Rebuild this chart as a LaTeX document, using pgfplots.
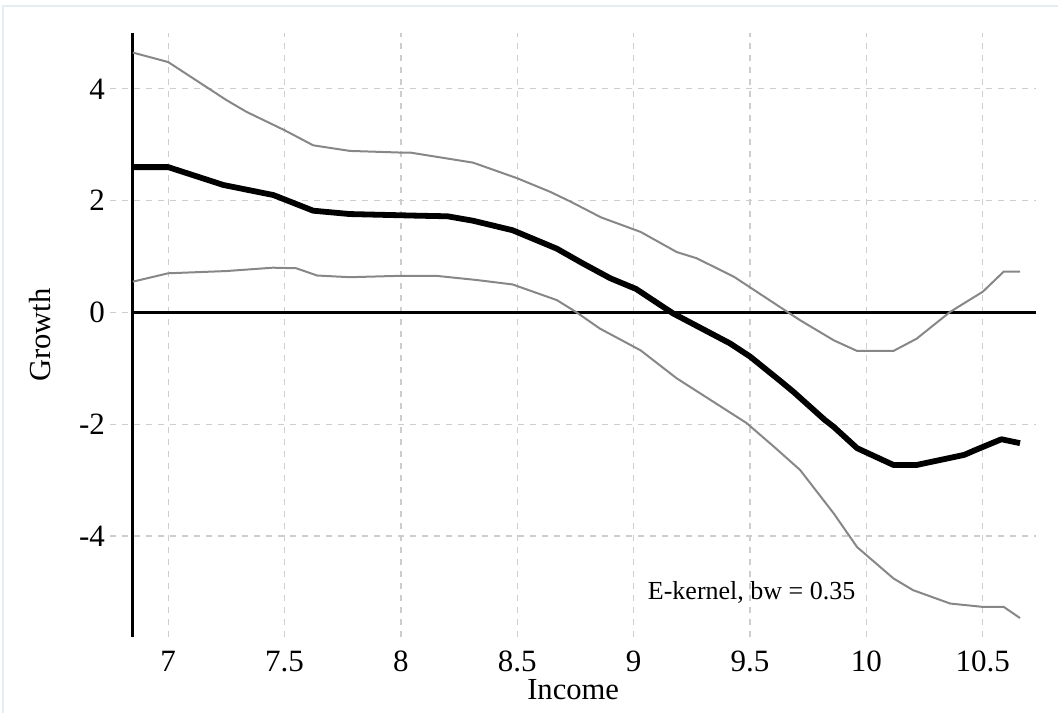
\documentclass[border=0pt]{standalone}
\usepackage{pgfplots}
\pgfplotsset{compat=1.18}
\usepackage{fontspec}
\setmainfont{Liberation Serif}
\definecolor{bandgray}{RGB}{135,135,135}
\definecolor{gridgray}{RGB}{205,205,205}
\definecolor{framec}{RGB}{228,238,240}
\begin{document}
\begin{tikzpicture}
\path[use as bounding box] (-55pt,-38pt) rectangle (473.95pt,318.5pt);
\draw[framec, line width=1pt] (-53.5pt,-38pt) -- (-53.5pt,315.5pt) -- (473.95pt,315.5pt);
\begin{axis}[
  at={(0,0)}, anchor=south west,
  scale only axis, width=463.1pt, height=302pt,
  xmin=6.75, xmax=10.73, ymin=-5.81, ymax=5.0,
  axis line style={draw=none},
  xtick={7,7.5,8,8.5,9,9.5,10,10.5},
  ytick={-4,-2,0,2,4},
  xticklabels={7,7.5,8,8.5,9,9.5,10,10.5},
  yticklabels={-4,-2,0,2,4},
  major tick length=0pt,
  tick label style={font=\fontsize{15.5}{17}\selectfont},
  xticklabel style={yshift=-3.5pt},
  yticklabel style={xshift=1pt},
  grid=major,
  major grid style={gridgray, dash pattern=on 3pt off 3pt, line width=0.6pt},
  xlabel={Income}, ylabel={Growth},
  label style={font=\fontsize{15.3}{17}\selectfont},
  xlabel style={at={(axis description cs:0.5,0)}, anchor=center, yshift=-26.5pt},
  ylabel style={at={(axis description cs:-0.0756,0.5)}, anchor=center},
  clip=false,
]
\draw[black, line width=1.5pt] (axis cs:6.848,-5.81) -- (axis cs:6.848,5.0);
\addplot[black, line width=1.3pt] coordinates {(6.848,0) (10.73,0)};
% upper band
\addplot[bandgray, line width=1pt] coordinates {
(6.848,4.65) (7.0,4.48) (7.25,3.80) (7.336,3.59) (7.5,3.26) (7.623,2.99) (7.78,2.89)
(8.0,2.86) (8.04,2.86) (8.31,2.68) (8.50,2.40) (8.64,2.16) (8.73,1.98) (8.86,1.70)
(9.03,1.44) (9.185,1.08) (9.27,0.97) (9.43,0.64) (9.66,0.01) (9.715,-0.14) (9.86,-0.50)
(9.96,-0.69) (10.116,-0.69) (10.216,-0.47) (10.36,0.01) (10.50,0.37) (10.59,0.73) (10.66,0.73)};
% lower band
\addplot[bandgray, line width=1pt] coordinates {
(6.848,0.55) (7.0,0.70) (7.25,0.74) (7.45,0.80) (7.55,0.79) (7.64,0.66) (7.78,0.63)
(8.0,0.655) (8.15,0.655) (8.325,0.58) (8.48,0.50) (8.67,0.22) (8.755,0.0) (8.855,-0.29)
(9.03,-0.68) (9.185,-1.18) (9.485,-1.98) (9.61,-2.43) (9.715,-2.82) (9.86,-3.60)
(9.96,-4.20) (10.116,-4.76) (10.20,-4.97) (10.36,-5.21) (10.50,-5.27) (10.59,-5.27) (10.66,-5.47)};
% mean
\addplot[black, line width=2.9pt, line join=round] coordinates {
(6.848,2.60) (7.0,2.60) (7.237,2.28) (7.452,2.10) (7.623,1.82) (7.78,1.76) (8.08,1.73)
(8.20,1.72) (8.31,1.64) (8.48,1.47) (8.67,1.14) (8.78,0.88) (8.90,0.61) (9.01,0.42)
(9.17,-0.02) (9.414,-0.555) (9.50,-0.79) (9.628,-1.22) (9.686,-1.42) (9.82,-1.92) (9.86,-2.05)
(9.96,-2.43) (10.116,-2.73) (10.216,-2.73) (10.42,-2.55) (10.47,-2.46) (10.58,-2.27) (10.66,-2.34)};
\node[font=\fontsize{13}{15}\selectfont] at (axis cs:9.507,-5.02) {E-kernel, bw = 0.35};
\end{axis}
\end{tikzpicture}
\end{document}
